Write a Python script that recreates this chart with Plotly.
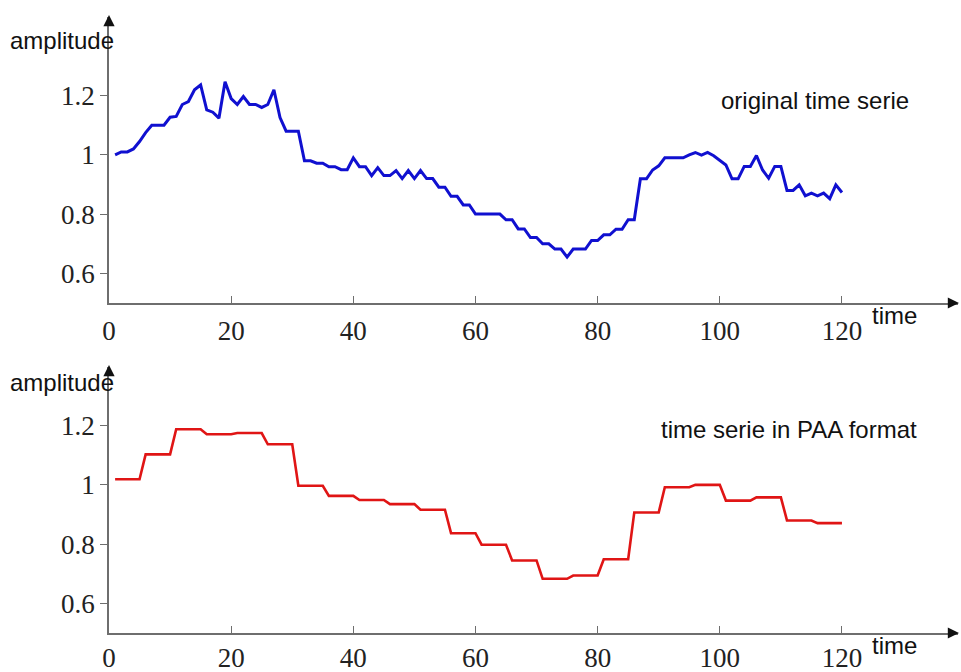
import numpy as np
import plotly.graph_objects as go

# ---------------- data ----------------
time = list(range(1, 121))
original = [
    1.00, 1.01, 1.01, 1.02, 1.045, 1.075, 1.10, 1.10, 1.10, 1.127,
    1.13, 1.17, 1.18, 1.22, 1.236, 1.152, 1.144, 1.124, 1.247, 1.19,
    1.17, 1.197, 1.17, 1.17, 1.16, 1.17, 1.22, 1.126, 1.08, 1.08,
    1.08, 0.98, 0.98, 0.972, 0.972, 0.96, 0.96, 0.95, 0.95, 0.99,
    0.96, 0.96, 0.93, 0.957, 0.93, 0.93, 0.947, 0.92, 0.947, 0.92,
    0.947, 0.92, 0.92, 0.891, 0.891, 0.86, 0.86, 0.831, 0.831, 0.80,
    0.80, 0.80, 0.80, 0.80, 0.781, 0.781, 0.75, 0.75, 0.721, 0.721,
    0.70, 0.70, 0.682, 0.682, 0.655, 0.682, 0.682, 0.682, 0.711, 0.711,
    0.73, 0.73, 0.749, 0.749, 0.781, 0.781, 0.919, 0.919, 0.949, 0.963,
    0.99, 0.99, 0.99, 0.99, 1.00, 1.008, 0.999, 1.008, 0.997, 0.98,
    0.966, 0.919, 0.919, 0.961, 0.961, 0.998, 0.949, 0.921, 0.961, 0.961,
    0.88, 0.88, 0.899, 0.862, 0.871, 0.862, 0.871, 0.852, 0.899, 0.873,
]
# PAA segment values (24 segments of 5 samples)
paa_segments = [
    1.019, 1.103, 1.188, 1.171, 1.175, 1.137, 0.997, 0.963, 0.949, 0.935,
    0.916, 0.837, 0.798, 0.745, 0.683, 0.694, 0.749, 0.907, 0.992, 1.000,
    0.947, 0.958, 0.880, 0.871,
]
segment_len = 5
paa = list(np.repeat(paa_segments, segment_len))

x_ticks = [0, 20, 40, 60, 80, 100, 120]
y_ticks = [0.6, 0.8, 1.0, 1.2]
y_ticktext = ["0.6", "0.8", "1", "1.2"]

# ---------------- layout helpers ----------------
W, H = 961, 672
def px_x(p):
    return p / W
def px_y(p):
    return 1 - p / H

x_left, x_right = 109, 958
top_dom = (303, 17)
bot_dom = (633, 367)
x_range = [0, 139.0]
y_range_top = [0.5, 1.4654]
y_range_bot = [0.5, 1.398]

axis_color = "#6e6e6e"
serif = "Liberation Serif"
sans = "Liberation Sans"

fig = go.Figure()
fig.add_trace(go.Scatter(x=time, y=original, mode="lines",
                         line=dict(color="#1010d0", width=3),
                         xaxis="x", yaxis="y", hoverinfo="skip"))
fig.add_trace(go.Scatter(x=time, y=paa, mode="lines",
                         line=dict(color="#e01515", width=2.6),
                         xaxis="x2", yaxis="y2", hoverinfo="skip"))

xcommon = dict(range=x_range, tickvals=x_ticks, ticks="inside", ticklen=7,
               tickcolor=axis_color, showline=True, linecolor=axis_color,
               linewidth=1.5, showgrid=False, zeroline=False, automargin=False,
               tickfont=dict(family=serif, size=27, color="#222"),
               domain=[px_x(x_left), px_x(x_right)])
ycommon = dict(tickvals=y_ticks, ticktext=y_ticktext, ticks="outside", ticklen=7,
               tickcolor=axis_color, showline=True, linecolor=axis_color,
               linewidth=1.5, showgrid=False, zeroline=False, automargin=False,
               tickfont=dict(family=serif, size=27, color="#222"))
yover = dict(tickvals=y_ticks, ticks="inside", ticklen=7, tickcolor=axis_color,
             showticklabels=False, showline=False, showgrid=False, zeroline=False,
             automargin=False)

fig.update_layout(
    width=W, height=H, autosize=False,
    margin=dict(l=0, r=0, t=0, b=0, pad=0, autoexpand=False),
    paper_bgcolor="white", plot_bgcolor="white",
    showlegend=False,
    xaxis=dict(**xcommon, anchor="y", ticklabelstandoff=3),
    xaxis2=dict(**xcommon, anchor="y2", ticklabelstandoff=0),
    yaxis=dict(**ycommon, range=y_range_top, anchor="x",
               domain=[px_y(top_dom[0]), px_y(top_dom[1])]),
    yaxis2=dict(**ycommon, range=y_range_bot, anchor="x2",
                domain=[px_y(bot_dom[0]), px_y(bot_dom[1])]),
    yaxis3=dict(**yover, range=y_range_top, overlaying="y", anchor="x"),
    yaxis4=dict(**yover, range=y_range_bot, overlaying="y2", anchor="x2"),
)

ann = []
for (ylab_y, time_y, arrow_top, axis_y) in [(40, 315, 15, 303), (382, 645, 365, 633)]:
    ann.append(dict(text="amplitude", x=px_x(8), y=px_y(ylab_y), xref="paper", yref="paper",
                    xanchor="left", yanchor="middle", showarrow=False,
                    font=dict(family=sans, size=24, color="#111")))
    ann.append(dict(text="time", x=px_x(870), y=px_y(time_y), xref="paper", yref="paper",
                    xanchor="left", yanchor="middle", showarrow=False,
                    font=dict(family=sans, size=24, color="#111")))
    # arrow heads at the axis ends
    ann.append(dict(text="", x=px_x(x_left), y=px_y(arrow_top), xref="paper", yref="paper",
                    showarrow=True, ax=0, ay=12, arrowhead=2, arrowsize=1.4,
                    arrowwidth=1.6, arrowcolor="#111"))
    ann.append(dict(text="", x=px_x(959), y=px_y(axis_y), xref="paper", yref="paper",
                    showarrow=True, ax=-12, ay=0, arrowhead=2, arrowsize=1.4,
                    arrowwidth=1.6, arrowcolor="#111"))

ann.append(dict(text="original time serie", x=px_x(719), y=px_y(100), xref="paper", yref="paper",
                xanchor="left", yanchor="middle", showarrow=False,
                font=dict(family=sans, size=24, color="#111")))
ann.append(dict(text="time serie in PAA format", x=px_x(659), y=px_y(430), xref="paper", yref="paper",
                xanchor="left", yanchor="middle", showarrow=False,
                font=dict(family=sans, size=24, color="#111")))
fig.update_layout(annotations=ann)

fig.write_html("out.html")
